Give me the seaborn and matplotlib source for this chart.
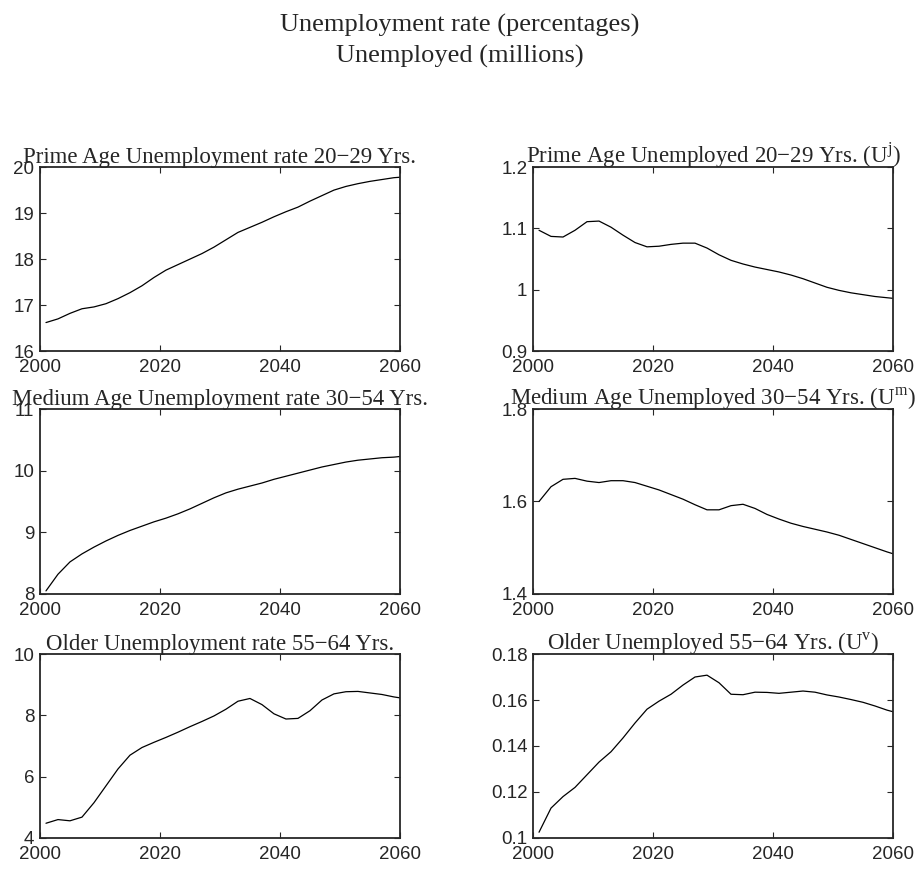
"""
Unemployment projections by age group, 2000-2060 (six panel figure)
"""

import pandas as pd
import matplotlib
matplotlib.use('Agg')
import matplotlib.pyplot as plt
import seaborn as sns

# ---- data ----
years = [2001, 2003, 2005, 2007, 2009, 2011, 2013, 2015, 2017, 2019,
         2021, 2023, 2025, 2027, 2029, 2031, 2033, 2035, 2037, 2039,
         2041, 2043, 2045, 2047, 2049, 2051, 2053, 2055, 2057, 2059, 2060]

rate_prime = [16.62, 16.70, 16.82, 16.92, 16.96, 17.03, 17.14, 17.27, 17.42, 17.60,
              17.76, 17.88, 18.00, 18.12, 18.26, 18.42, 18.58, 18.69, 18.80, 18.92,
              19.03, 19.13, 19.26, 19.38, 19.50, 19.58, 19.64, 19.69, 19.73, 19.77, 19.78]

unemp_prime = [1.097, 1.087, 1.086, 1.097, 1.111, 1.112, 1.102, 1.089, 1.077, 1.070,
               1.071, 1.074, 1.076, 1.076, 1.068, 1.057, 1.048, 1.042, 1.037, 1.033,
               1.029, 1.024, 1.018, 1.011, 1.004, 0.999, 0.995, 0.992, 0.989, 0.987, 0.986]

rate_medium = [8.05, 8.32, 8.52, 8.65, 8.76, 8.86, 8.95, 9.03, 9.10, 9.17,
               9.23, 9.30, 9.38, 9.47, 9.56, 9.64, 9.70, 9.75, 9.80, 9.86,
               9.91, 9.96, 10.01, 10.06, 10.10, 10.14, 10.17, 10.19, 10.21, 10.22, 10.23]

unemp_medium = [1.600, 1.632, 1.648, 1.650, 1.644, 1.641, 1.645, 1.645, 1.641, 1.633,
                1.625, 1.615, 1.605, 1.593, 1.582, 1.582, 1.591, 1.594, 1.585, 1.572,
                1.562, 1.553, 1.546, 1.540, 1.534, 1.527, 1.518, 1.509, 1.500, 1.491, 1.487]

rate_older = [4.48, 4.60, 4.56, 4.68, 5.15, 5.70, 6.25, 6.70, 6.95, 7.12,
              7.28, 7.45, 7.63, 7.80, 7.98, 8.20, 8.46, 8.55, 8.35, 8.05,
              7.88, 7.90, 8.15, 8.50, 8.70, 8.77, 8.78, 8.73, 8.68, 8.60, 8.57]

unemp_older = [0.1025, 0.1130, 0.1180, 0.1220, 0.1275, 0.1330, 0.1375, 0.1435, 0.1500, 0.1560,
               0.1595, 0.1625, 0.1665, 0.1700, 0.1708, 0.1675, 0.1625, 0.1623, 0.1634, 0.1633,
               0.1629, 0.1634, 0.1639, 0.1634, 0.1622, 0.1613, 0.1602, 0.1590, 0.1574, 0.1556, 0.1549]

titles = [
    'Prime Age Unemployment rate 20\u221229 Yrs.',
    'Prime Age Unemployed 20\u221229 Yrs. (U$^{\\mathregular{j}}$)',
    'Medium Age Unemployment rate 30\u221254 Yrs.',
    'Medium Age Unemployed 30\u221254 Yrs. (U$^{\\mathregular{m}}$)',
    'Older Unemployment rate 55\u221264 Yrs.',
    'Older Unemployed 55\u221264 Yrs. (U$^{\\mathregular{v}}$)',
]
series = [rate_prime, unemp_prime, rate_medium, unemp_medium, rate_older, unemp_older]
ylims = [(16, 20), (0.9, 1.2), (8, 11), (1.4, 1.8), (4, 10), (0.1, 0.18)]
yticks = [[16, 17, 18, 19, 20], [0.9, 1.0, 1.1, 1.2], [8, 9, 10, 11],
          [1.4, 1.6, 1.8], [4, 6, 8, 10], [0.1, 0.12, 0.14, 0.16, 0.18]]
ylabels = [['16', '17', '18', '19', '20'], ['0.9', '1', '1.1', '1.2'],
           ['8', '9', '10', '11'], ['1.4', '1.6', '1.8'], ['4', '6', '8', '10'],
           ['0.1', '0.12', '0.14', '0.16', '0.18']]
xticks = [2000, 2020, 2040, 2060]


def main():
    sns.set_style('ticks')
    plt.rcParams['font.family'] = ['Liberation Sans', 'DejaVu Sans']
    plt.rcParams['mathtext.fontset'] = 'custom'
    plt.rcParams['mathtext.rm'] = 'Liberation Serif'

    fig = plt.figure(figsize=(9.19, 8.69), dpi=100)
    fig.suptitle('Unemployment rate (percentages)\nUnemployed (millions)',
                 y=0.984, fontsize=19, family='Liberation Serif', linespacing=1.45)

    lefts = [0.0435, 0.58]
    rows = [(0.596, 0.2117), (0.3165, 0.2128), (0.0357, 0.2117)]

    for i, vals in enumerate(series):
        r, c = divmod(i, 2)
        ax = fig.add_axes([lefts[c], rows[r][0], 0.3917, rows[r][1]])
        df = pd.DataFrame({'year': years, 'value': vals})
        sns.lineplot(data=df, x='year', y='value', ax=ax, color='black', linewidth=0.9)
        ax.set_xlim(2000, 2060)
        ax.set_ylim(*ylims[i])
        ax.set_xticks(xticks)
        ax.set_yticks(yticks[i])
        ax.set_yticklabels(ylabels[i])
        ax.set_xlabel('')
        ax.set_ylabel('')
        ax.tick_params(direction='in', length=4, width=0.8, top=True, right=True,
                       labelsize=13.5)
        ax.tick_params(axis='x', pad=6)
        ax.tick_params(axis='y', pad=4)
        for sp in ax.spines.values():
            sp.set_linewidth(1.3)
            sp.set_visible(True)
        ax.set_title(titles[i], fontsize=16.5, family='Liberation Serif', pad=3)

    plt.savefig('out.png', dpi=100)
    plt.close()


if __name__ == "__main__":
    main()
